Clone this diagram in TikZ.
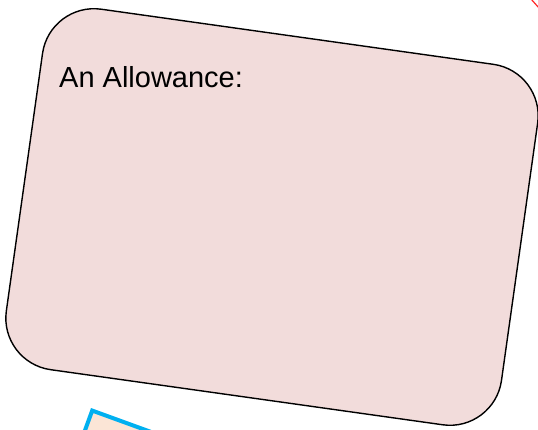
\documentclass[tikz,border=0pt]{standalone}
\usepackage{fontspec}
\setmainfont{Liberation Sans}
\definecolor{boxpink}{HTML}{F2DCDB}
\definecolor{peach}{HTML}{FBE5D6}
\definecolor{skyblue}{HTML}{00B0F0}
\begin{document}
\begin{tikzpicture}[x=1pt,y=1pt,
  card/.style={draw=black, line width=1.4pt, fill=boxpink, rounded corners=52pt,
    minimum width=500pt, minimum height=364pt, inner sep=0pt, outer sep=0pt, rotate=-8},
  tile/.style={draw=skyblue, line width=4pt, fill=peach, minimum width=160pt,
    minimum height=110pt, inner sep=0pt, rotate=-20},
  label/.style={font=\fontsize{29}{34}\selectfont, text=black, inner sep=0pt}]
\useasboundingbox (0,0) rectangle (538,429);
\clip (0,0) rectangle (538,429);
\node[tile, anchor=north west] (tile) at (91,21) {};
\draw[red!85, line width=1.2pt] (531,430) -- (539,421);
\node[card] (card) at (272,212) {};
\node[label, anchor=base west] (title) at (59,341.5) {An Allowance:};
\end{tikzpicture}
\end{document}
